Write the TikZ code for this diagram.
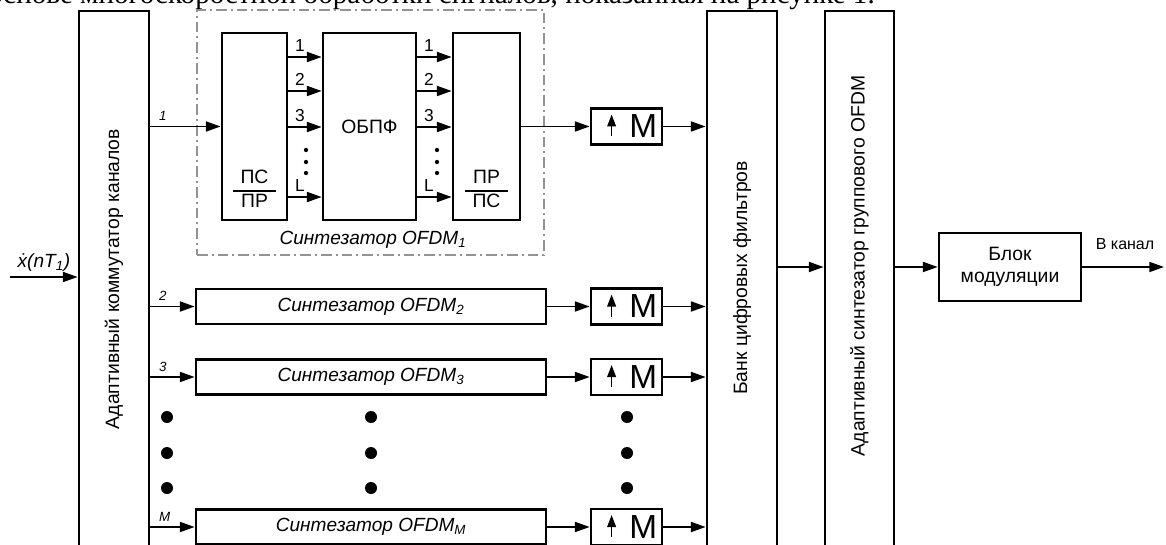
\documentclass[tikz,border=0pt]{standalone}
\usepackage{fontspec}
\setmainfont{Liberation Serif}
\setsansfont{Liberation Sans}
\usetikzlibrary{arrows.meta,calc}

\tikzset{
  blk/.style={draw,line width=2.1pt,inner sep=0pt},
  conn/.style={line width=1.3pt,-{Triangle[length=11pt,width=7.5pt]}},
  lbl/.style={font=\sffamily\fontsize{14.5}{17}\selectfont},
  syn/.style={font=\sffamily\itshape\fontsize{14.3}{17}\selectfont},
  idx/.style={font=\sffamily\itshape\fontsize{10}{11}\selectfont,inner sep=1pt},
  num/.style={font=\sffamily\fontsize{13}{14}\selectfont,inner sep=1pt},
  mbox/.style={blk,minimum width=53.25pt,minimum height=27pt,font=\sffamily\fontsize{25}{26}\selectfont},
  uparr/.style={line width=1.2pt,-{Triangle[length=9pt,width=6.5pt]}},
}

\begin{document}
\begin{tikzpicture}[x=0.75pt,y=-0.75pt]
\useasboundingbox (0,0) rectangle (1166,545);

\node[font=\rmfamily\fontsize{21.8}{26}\selectfont,anchor=base west,inner sep=0pt] (txt) at (-12,4) {основе многоскоростной обработки сигналов, показанная на рисунке 1.};

% commutator
\node[blk,minimum width=52.5pt,minimum height=420pt] (comm) at (114,291) {};
\node[lbl,rotate=90] at (114,279) {Адаптивный коммутатор каналов};
\coordinate (in) at (10,277);
\draw[conn] (in) -- (in -| comm.west);
\node[syn,inner sep=0pt] (xin) at (44,263) {\.x(nT\textsubscript{1})};

% synthesizer 1
\node[draw=gray!85,line width=0.8pt,dash pattern=on 8pt off 3pt on 1.5pt off 3pt,minimum width=260.25pt,minimum height=183.75pt] (syn1) at (370.5,132.5) {};
\node[blk,minimum width=48.75pt,minimum height=140.25pt] (ps) at (254.5,126.5) {};
\node[blk,lbl,minimum width=69.75pt,minimum height=140.25pt] (fft) at (369.5,126.5) {ОБПФ};
\node[blk,minimum width=50.25pt,minimum height=140.25pt] (pr) at (486.5,126.5) {};
\node[lbl,inner sep=0pt] (psfr) at (254.5,191) {\setlength\arrayrulewidth{1pt}\begin{tabular}{c}ПС\\\hline ПР\end{tabular}};
\node[lbl,inner sep=0pt] (prfr) at (486.5,191) {\setlength\arrayrulewidth{1pt}\begin{tabular}{c}ПР\\\hline ПС\end{tabular}};
\node[syn] (syn1lbl) at (373,240) {Синтезатор OFDM\textsubscript{1}};

\foreach \yy/\k in {57/1,91/2,127/3,197/L} {
  \coordinate (r\k) at (0,\yy);
  \draw[conn] (ps.east |- r\k) -- (fft.west |- r\k);
  \draw[conn] (fft.east |- r\k) -- (pr.west |- r\k);
  \node[num,anchor=south west] at ($(ps.east |- r\k)+(5,-4)$) {\k};
  \node[num,anchor=south west] at ($(fft.east |- r\k)+(5,-4)$) {\k};
}
\foreach \yy in {150,162,173} {
  \fill (306,\yy) circle (1.6pt);
  \fill (437,\yy) circle (1.6pt);
}

\draw[conn] (comm.east |- ps.west) -- (ps.west);
\node[idx,anchor=south west] at ($(comm.east |- ps.west)+(7,-4)$) {1};

% filter bank
\node[blk,minimum width=52.5pt,minimum height=420pt] (bank) at (742,291) {};
\node[lbl,rotate=90] at (742,278) {Банк цифровых фильтров};

\node[mbox] (m1) at (626.5,126.5) {\hspace{25pt}M};
\draw[conn] (pr.east) -- (m1.west);
\draw[conn] (m1.east) -- (m1.east -| bank.west);

% other channels
\foreach \k/\yy in {2/306.5,3/377,M/527} {
  \node[blk,syn,minimum width=262.5pt,minimum height=26.25pt] (s\k) at (371,\yy) {Синтезатор OFDM\textsubscript{\k}};
  \node[mbox] (m\k) at (626.5,\yy) {\hspace{25pt}M};
  \draw[conn] (comm.east |- s\k.west) -- (s\k.west);
  \draw[conn] (s\k.east) -- (m\k.west);
  \draw[conn] (m\k.east) -- (m\k.east -| bank.west);
  \node[idx,anchor=south west] at ($(comm.east |- s\k.west)+(7,-4)$) {\k};
}
\foreach \m in {m1,m2,m3,mM}
  \draw[uparr] ($(\m.west)+(22,10)$) -- ($(\m.west)+(22,-12)$);

\foreach \xx in {167,371,627}
  \foreach \yy in {417,453,488}
    \fill (\xx,\yy) circle (4.5pt);

% group synthesizer and modulation
\node[blk,minimum width=51.75pt,minimum height=420pt] (grp) at (859.5,291) {};
\node[lbl,rotate=90] at (859.5,266) {Адаптивный синтезатор группового OFDM};
\node[blk,lbl,align=center,minimum width=106.5pt,minimum height=51pt] (mod) at (1010,267) {Блок\\модуляции};
\draw[conn] (bank.east |- mod.west) -- (grp.west |- mod.west);
\draw[conn] (grp.east |- mod.west) -- (mod.west);
\coordinate (out) at (1164,267);
\draw[conn] (mod.east) -- (out);
\node[font=\sffamily\fontsize{12}{14}\selectfont] (vk) at (1125,244) {В канал};
\end{tikzpicture}
\end{document}
